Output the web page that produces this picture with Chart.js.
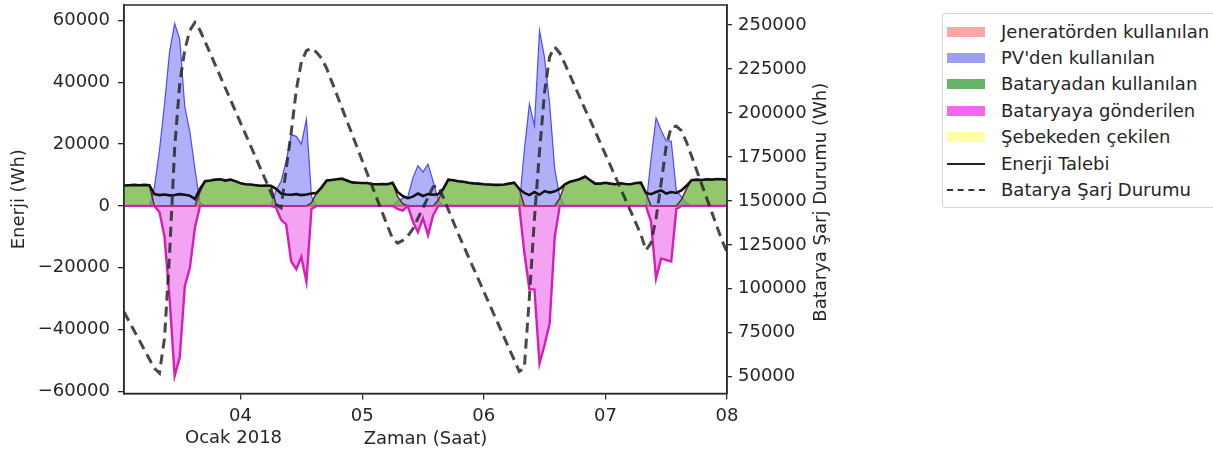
<!DOCTYPE html>
<html>
<head>
<meta charset="utf-8">
<script src="https://cdn.jsdelivr.net/npm/chart.js@4.4.1/dist/chart.umd.min.js"></script>
<style>
html,body{margin:0;padding:0;background:#fff;}
#wrap{position:relative;width:1213px;height:456px;overflow:hidden;}
#legend{position:absolute;left:942px;top:13px;width:300px;height:195px;border:1px solid #d4d4d4;border-radius:3px;box-sizing:border-box;font-family:'DejaVu Sans',sans-serif;font-size:18px;color:#262626;background:#fff;}
.item{position:absolute;left:0;height:20px;line-height:20px;white-space:nowrap;}
.sw{position:absolute;left:4px;top:5px;width:38px;height:10px;}
.ln{position:absolute;left:4px;top:9px;width:38px;height:0;}
.lab{position:absolute;left:58px;top:0;}
</style>
</head>
<body>
<div id="wrap">
<canvas id="c" width="1213" height="456"></canvas>
<div id="legend"></div>
</div>
<script>
// ---- data (hours since 3 Ocak 2018 00:00) ----
const hours = [
  1,2,3,4,5,6,7,8,9,10,11,12,
  13,14,15,16,17,18,19,20,21,22,23,24,
  25,26,27,28,29,30,31,32,33,34,35,36,
  37,38,39,40,41,42,43,44,45,46,47,48,
  49,50,51,52,53,54,55,56,57,58,59,60,
  61,62,63,64,65,66,67,68,69,70,71,72,
  73,74,75,76,77,78,79,80,81,82,83,84,
  85,86,87,88,89,90,91,92,93,94,95,96,
  97,98,99,100,101,102,103,104,105,106,107,108,
  109,110,111,112,113,114,115,116,117,118,119,120
];
const tickHours = [24, 48, 72, 96, 120];
const tickLabels = ['04', '05', '06', '07', '08'];
const offsetLabel = 'Ocak 2018';
const leftTicks = [-60000, -40000, -20000, 0, 20000, 40000, 60000];
const rightTicks = [50000, 75000, 100000, 125000, 150000, 175000, 200000, 225000, 250000];

const seriesNames = ['Jeneratörden kullanılan', "PV'den kullanılan", 'Bataryadan kullanılan',
  'Bataryaya gönderilen', 'Şebekeden çekilen', 'Enerji Talebi', 'Batarya Şarj Durumu'];

const genUsed = [
  0,0,0,0,0,0,0,0,0,0,0,0,
  0,0,0,0,0,0,0,0,0,0,0,0,
  0,0,0,0,0,0,0,0,0,0,0,0,
  0,0,0,0,0,0,0,0,0,0,0,0,
  0,0,0,0,0,0,0,0,0,0,0,0,
  0,0,0,0,0,0,0,0,0,0,0,0,
  0,0,0,0,0,0,0,0,0,0,0,0,
  0,0,0,0,0,0,0,0,0,0,0,0,
  0,0,0,0,0,0,0,0,0,0,0,0,
  0,0,0,0,0,0,0,0,0,0,0,0
];
const pvUsed = [
  0,0,0,0,0,0,6000,18000,33000,50000,59000,54000,
  32000,24000,12000,1000,0,0,0,0,0,0,0,0,
  0,0,0,0,0,0,5000,8000,14500,23000,22500,20000,
  28000,3000,0,0,0,0,0,0,0,0,0,0,
  0,0,0,0,0,0,1500,2500,3000,9000,13000,11000,
  13500,8000,2000,0,0,0,0,0,0,0,0,0,
  0,0,0,0,0,0,0,18000,33000,26000,56800,48000,
  33000,12000,3000,0,0,0,0,0,0,0,0,0,
  0,0,0,0,0,0,0,0,15000,28500,24500,21000,
  21000,5000,3000,1000,0,0,0,0,0,0,0,0
];
const batteryUsed = [
  6600,6700,6800,6700,6800,6700,0,0,0,0,0,0,
  0,0,0,4500,8000,8200,8500,8600,8200,8500,8000,7300,
  7000,6900,6700,6500,6600,6500,500,0,0,0,0,0,
  0,1000,4200,6000,8200,8400,8600,8800,8200,7600,7500,7400,
  7400,7000,7000,7100,7000,7500,3000,700,0,0,0,0,
  0,0,1800,5500,8500,8300,8000,7800,7500,7300,7200,7000,
  6900,6800,6800,6900,7200,7500,5500,0,0,0,0,0,
  0,0,2500,7000,7800,8200,8700,9500,8300,7200,7200,7500,
  7200,7000,7300,7100,7000,7400,7500,4200,0,0,0,0,
  0,0,2000,5500,8300,8500,8400,8600,8500,8700,8600,8500
];
const batteryCharged = [
  0,0,0,0,0,0,0,-2000,-10000,-30000,-55000,-49000,
  -26000,-20000,-7000,0,0,0,0,0,0,0,0,0,
  0,0,0,0,0,0,-500,-4500,-6000,-18000,-20500,-16500,
  -24500,-1000,0,0,0,0,0,0,0,0,0,0,
  0,0,0,0,0,0,-1000,-1500,0,-5000,-8500,-4000,
  -9500,-3000,0,0,0,0,0,0,0,0,0,0,
  0,0,0,0,0,0,0,-15000,-27000,-27000,-51000,-45000,
  -38000,-10000,0,0,0,0,0,0,0,0,0,0,
  0,0,0,0,0,0,0,0,-5000,-23500,-17000,-17500,
  -18000,-1000,0,0,0,0,0,0,0,0,0,0
];
const gridDrawn = [
  0,0,0,0,0,0,0,0,0,0,0,0,
  0,0,0,0,0,0,0,0,0,0,0,0,
  0,0,0,0,0,0,0,0,0,0,0,0,
  0,0,0,0,0,0,0,0,0,0,0,0,
  0,0,0,0,0,0,0,0,0,0,0,0,
  0,0,0,0,0,0,0,0,0,0,0,0,
  0,0,0,0,0,0,0,0,0,0,0,0,
  0,0,0,0,0,0,0,0,0,0,0,0,
  0,0,0,0,0,0,0,0,0,0,0,0,
  0,0,0,0,0,0,0,0,0,0,0,0
];
const demand = [
  6600,6700,6800,6700,6800,6700,3800,3500,3700,3400,3500,3800,
  3600,3300,2200,5500,8000,8200,8500,8600,8200,8500,8000,7300,
  7000,6900,6700,6500,6600,6500,5500,4000,3700,3600,3800,3500,
  3700,4000,4200,6000,8200,8400,8600,8800,8200,7600,7500,7400,
  7400,7000,7000,7100,7000,7500,4500,3200,2500,3000,4000,3200,
  3800,3600,3800,5500,8500,8300,8000,7800,7500,7300,7200,7000,
  6900,6800,6800,6900,7200,7500,5500,4200,3500,4500,3600,4800,
  4300,4700,5500,7000,7800,8200,8700,9500,8300,7200,7200,7500,
  7200,7000,7300,7100,7000,7400,7500,4200,3800,4500,5000,4000,
  4500,4200,5000,6500,8300,8500,8400,8600,8500,8700,8600,8500
];
const stateOfCharge = [
  86800,81500,76100,70800,65400,60100,54700,52000,72000,120000,180000,217000,
  236000,247000,251500,247000,240500,234000,227400,220800,214200,207600,201000,194400,
  187800,181200,174600,168000,161400,154800,148000,146000,168000,189000,213000,229000,
  235500,236800,234500,231000,225300,217800,210400,202900,195400,188000,180500,173000,
  165600,158100,150600,143200,135700,128500,126000,127500,130000,134000,140000,146000,
  152000,158000,158500,152000,145000,138000,131000,124500,118000,111500,105000,98500,
  92000,85500,79000,72500,66000,59500,53000,55000,95000,140000,178000,212000,
  232000,237500,234000,228000,221500,215000,208500,202000,196000,189500,183000,176500,
  170000,163500,157000,150500,144000,137500,131000,122000,126000,140000,160000,181000,
  192000,192500,190000,183500,175500,167500,159500,151500,143500,135500,127500,121000
];

// ---- chart ----
Chart.defaults.font.family = "'DejaVu Sans', sans-serif";
Chart.defaults.font.size = 18;
Chart.defaults.color = '#262626';

const fmt = v => (v < 0 ? '\u2212' + Math.abs(v) : String(v));
const axisColor = '#2b2b2b';

const deco = {
  id: 'deco',
  afterDraw(chart) {
    const {ctx, chartArea: a} = chart;
    ctx.save();
    ctx.strokeStyle = axisColor;
    ctx.lineWidth = 1.5;
    ctx.strokeRect(a.left, a.top, a.right - a.left, a.bottom - a.top);
    ctx.fillStyle = '#262626';
    ctx.font = "18px 'DejaVu Sans', sans-serif";
    ctx.textAlign = 'center';
    ctx.textBaseline = 'middle';
    const xs = chart.scales.x;
    ctx.fillText(offsetLabel, xs.getPixelForValue(tickHours[0]) - 7, 438);
    ctx.translate(a.right + 94, (a.top + a.bottom) / 2 + 3);
    ctx.rotate(-Math.PI / 2);
    ctx.fillText('Batarya Şarj Durumu (Wh)', 0, 0);
    ctx.restore();
  }
};

const noPadY = s => { s.paddingTop = 0; s.paddingBottom = 0; };

const datasets = [
  { label: seriesNames[0], data: genUsed, yAxisID: 'y', fill: 'origin', order: 3,
    backgroundColor: 'rgba(255,60,60,0.35)', borderColor: 'rgba(225,40,90,0.8)', borderWidth: 1.2,
    legendColor: 'rgba(255,60,60,0.45)', legendType: 'box' },
  { label: seriesNames[1], data: pvUsed, yAxisID: 'y', fill: 'origin', order: 5,
    backgroundColor: 'rgba(40,40,240,0.37)', borderColor: 'rgba(30,30,255,0.75)', borderWidth: 1.2,
    legendColor: 'rgba(40,40,235,0.45)', legendType: 'box' },
  { label: seriesNames[2], data: batteryUsed, yAxisID: 'y', fill: 'origin', order: 4,
    backgroundColor: 'rgba(110,180,60,0.75)', borderColor: 'rgb(110,30,60)', borderWidth: 1.5,
    legendColor: 'rgba(20,140,20,0.65)', legendType: 'box' },
  { label: seriesNames[3], data: batteryCharged, yAxisID: 'y', fill: 'origin', order: 2,
    backgroundColor: 'rgba(220,0,220,0.36)', borderColor: 'rgb(215,30,180)', borderWidth: 2.4,
    legendColor: 'rgba(235,20,235,0.65)', legendType: 'box' },
  { label: seriesNames[4], data: gridDrawn, yAxisID: 'y', fill: 'origin', order: 6,
    backgroundColor: 'rgba(255,255,60,0.35)', borderColor: 'rgba(230,230,40,0.4)', borderWidth: 1,
    legendColor: 'rgba(255,255,60,0.45)', legendType: 'box' },
  { label: seriesNames[5], data: demand, yAxisID: 'y', fill: false, order: 1,
    borderColor: '#111', borderWidth: 2.6,
    legendColor: '#222', legendType: 'line' },
  { label: seriesNames[6], data: stateOfCharge, yAxisID: 'y2', fill: false, order: 0,
    borderColor: 'rgba(40,40,40,0.85)', borderWidth: 3, borderDash: [10, 6],
    legendColor: '#333', legendType: 'dash' }
];

const chart = new Chart(document.getElementById('c'), {
  type: 'line',
  data: { labels: hours, datasets: datasets },
  options: {
    responsive: false,
    animation: false,
    devicePixelRatio: 1,
    layout: { padding: { top: 5, left: 0, right: 0, bottom: 0 } },
    elements: { point: { radius: 0, hoverRadius: 0 }, line: { tension: 0 } },
    plugins: { legend: { display: false }, tooltip: { enabled: false } },
    scales: {
      x: {
        type: 'linear', min: 1, max: 120,
        afterBuildTicks: s => { s.ticks = tickHours.map(v => ({ value: v })); },
        afterFit: s => { s.height = 62.5; s.paddingLeft = 0; s.paddingRight = 0; },
        ticks: { autoSkip: false, maxRotation: 0, padding: 6,
          callback: v => tickLabels[tickHours.indexOf(v)] },
        grid: { drawOnChartArea: false, drawTicks: true, tickLength: 6, color: axisColor, lineWidth: 1.3 },
        border: { display: true, color: axisColor, width: 1.5 },
        title: { display: true, text: 'Zaman (Saat)', padding: { top: 0, bottom: 6 } }
      },
      y: {
        position: 'left', min: -60700, max: 65000,
        afterBuildTicks: s => { s.ticks = leftTicks.map(v => ({ value: v })); },
        afterFit: s => { s.width = 124; noPadY(s); },
        ticks: { padding: 8, callback: v => fmt(v) },
        grid: { drawOnChartArea: false, drawTicks: true, tickLength: 6, color: axisColor, lineWidth: 1.3 },
        border: { display: true, color: axisColor, width: 1.5 },
        title: { display: true, text: 'Enerji (Wh)', padding: { top: 9, bottom: 0 } }
      },
      y2: {
        position: 'right', min: 40450, max: 261400,
        afterBuildTicks: s => { s.ticks = rightTicks.map(v => ({ value: v })); },
        afterFit: s => { s.width = 486; noPadY(s); },
        ticks: { padding: 6, callback: v => fmt(v) },
        grid: { drawOnChartArea: false, drawTicks: true, tickLength: 5, color: axisColor, lineWidth: 1.3 },
        border: { display: true, color: axisColor, width: 1.5 }
      }
    }
  },
  plugins: [deco]
});

// ---- legend built from the chart's datasets ----
const legendEl = document.getElementById('legend');
chart.data.datasets.forEach((ds, i) => {
  const item = document.createElement('div');
  item.className = 'item';
  item.style.top = (31.5 + 26.4 * i - 10 - 14) + 'px';
  const sw = document.createElement('div');
  if (ds.legendType === 'box') {
    sw.className = 'sw';
    sw.style.background = ds.legendColor;
  } else {
    sw.className = 'ln';
    sw.style.borderTop = '2.5px ' + (ds.legendType === 'dash' ? 'dashed ' : 'solid ') + ds.legendColor;
  }
  const lab = document.createElement('span');
  lab.className = 'lab';
  lab.textContent = ds.label;
  item.appendChild(sw);
  item.appendChild(lab);
  legendEl.appendChild(item);
});
</script>
</body>
</html>
